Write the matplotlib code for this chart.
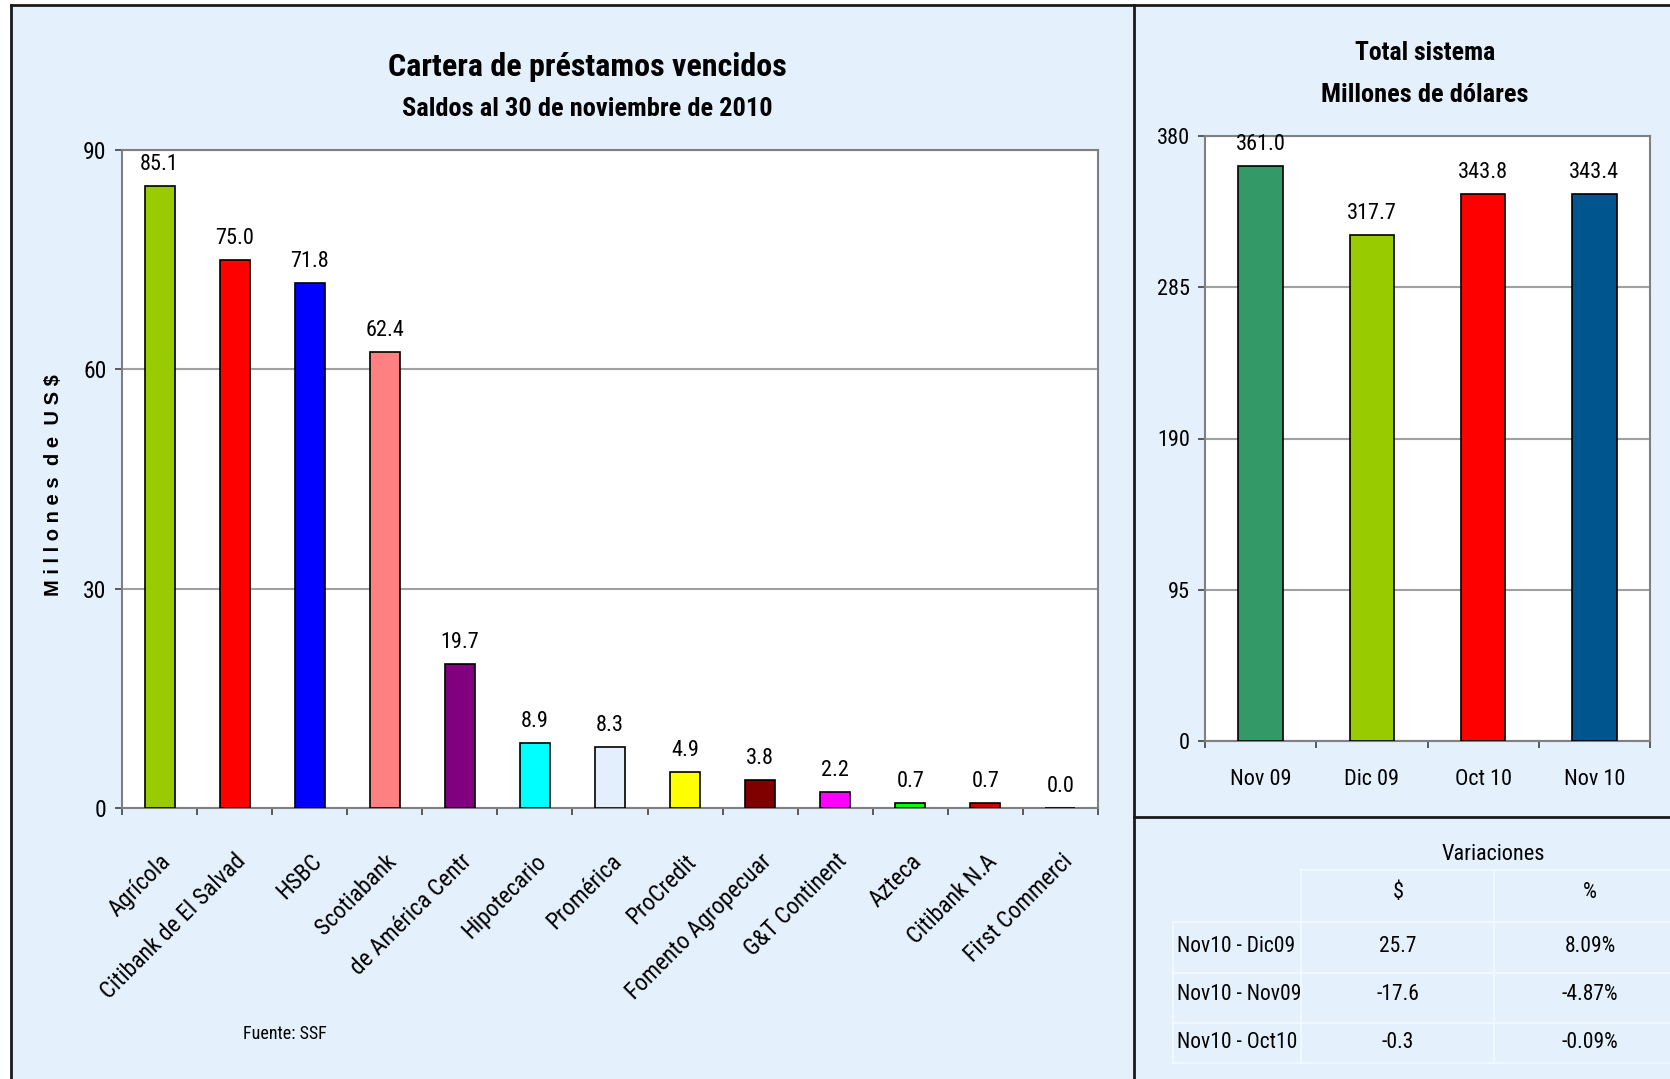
import matplotlib
matplotlib.use('Agg')
import matplotlib.pyplot as plt
from matplotlib.lines import Line2D
from matplotlib.patches import Rectangle
import numpy as np

plt.rcParams['font.family'] = ['Roboto Condensed', 'PT Sans Narrow', 'DejaVu Sans']

# ---------------- data ----------------
banks = ['Agrícola', 'Citibank de El Salvad', 'HSBC', 'Scotiabank', 'de América Centr',
         'Hipotecario', 'Promérica', 'ProCredit', 'Fomento Agropecuar', 'G&T Continent',
         'Azteca', 'Citibank N.A', 'First Commerci']
values = [85.1, 75.0, 71.8, 62.4, 19.7, 8.9, 8.3, 4.9, 3.8, 2.2, 0.7, 0.7, 0.0]
bank_colors = ['#99CC00', '#FF0000', '#0000FF', '#FF8080', '#800080', '#00FFFF', '#E3EFFC',
               '#FFFF00', '#800000', '#FF00FF', '#00FF00', '#CC0000', '#FFFFFF']
left_yticks = [0, 30, 60, 90]

periods = ['Nov 09', 'Dic 09', 'Oct 10', 'Nov 10']
totals = [361.0, 317.7, 343.8, 343.4]
total_colors = ['#339966', '#99CC00', '#FF0000', '#00558F']
right_yticks = [0, 95, 190, 285, 380]

var_rows = ['Nov10 - Dic09', 'Nov10 - Nov09', 'Nov10 - Oct10']
var_usd = ['25.7', '-17.6', '-0.3']
var_pct = ['8.09%', '-4.87%', '-0.09%']

# ---------------- figure ----------------
W, H = 1670, 1079
fig = plt.figure(figsize=(W / 100, H / 100), dpi=100)
fig.patch.set_facecolor('white')


def fx(px):
    return px / W


def fy(py):
    return 1 - py / H


BG = '#E4F1FD'
fig.patches.append(Rectangle((fx(11), 0), 1 - fx(11), fy(5), transform=fig.transFigure,
                             facecolor=BG, edgecolor='none', zorder=-10))
for (x0, y0, x1, y1) in [(11, 5, 1670, 5), (11, 5, 11, 1079), (1134, 5, 1134, 1079),
                         (1134, 817, 1670, 817)]:
    fig.add_artist(Line2D([fx(x0), fx(x1)], [fy(y0), fy(y1)], transform=fig.transFigure,
                          color='#1a1a1a', lw=2))

GRID = '#A0A0A0'
SPINE = '#808080'

# ---------------- left chart ----------------
ax1 = fig.add_axes([fx(122), fy(808), fx(1098) - fx(122), fy(150) - fy(808)])
ax1.set_facecolor('white')
x = np.arange(len(banks))
ax1.bar(x, values, width=0.4, color=bank_colors, edgecolor='black', linewidth=1.2, zorder=3)
for xi, v in zip(x, values):
    ax1.annotate(f'{v:.1f}', (xi, v), xytext=(0, 8), textcoords='offset points',
                 ha='center', va='bottom', fontsize=16)
ax1.set_xlim(-0.5, len(banks) - 0.5)
ax1.set_ylim(0, 90)
ax1.set_yticks(left_yticks)
ax1.yaxis.grid(True, color=GRID, lw=1.5)
ax1.set_axisbelow(True)
ax1.set_xticks(x)
ax1.set_xticklabels(banks, rotation=45, ha='right', rotation_mode='anchor', fontsize=17)
ax1.set_xticks(np.arange(-0.5, len(banks)), minor=True)
ax1.tick_params(axis='x', which='major', length=0, pad=30)
ax1.tick_params(axis='x', which='minor', length=5, color='#404040', width=1.2)
ax1.tick_params(axis='y', length=5, color='#404040', width=1.2, pad=6, labelsize=17)
for s in ax1.spines.values():
    s.set_color(SPINE)
    s.set_linewidth(1.5)
fig.text(fx(54), fy(485), 'M i l l o n e s  d e  U S $', rotation=90, ha='center',
         va='center', fontsize=14.5, fontweight='bold', family='Liberation Sans')

fig.text(fx(587), fy(67), 'Cartera de préstamos vencidos', ha='center', va='center',
         fontsize=23, fontweight='bold')
fig.text(fx(587), fy(109), 'Saldos al 30 de noviembre de 2010', ha='center', va='center',
         fontsize=19, fontweight='bold')
fig.text(fx(243), fy(1034), 'Fuente: SSF', ha='left', va='center', fontsize=13)

# ---------------- right chart ----------------
ax2 = fig.add_axes([fx(1205), fy(741), fx(1650) - fx(1205), fy(136) - fy(741)])
ax2.set_facecolor('white')
xp = np.arange(len(periods))
ax2.bar(xp, totals, width=0.4, color=total_colors, edgecolor='black', linewidth=1.2, zorder=3)
for xi, v in zip(xp, totals):
    ax2.annotate(f'{v:.1f}', (xi, v), xytext=(0, 8), textcoords='offset points',
                 ha='center', va='bottom', fontsize=16)
ax2.set_xlim(-0.5, len(periods) - 0.5)
ax2.set_ylim(0, 380)
ax2.set_yticks(right_yticks)
ax2.yaxis.grid(True, color=GRID, lw=1.5)
ax2.set_axisbelow(True)
ax2.set_xticks(xp)
ax2.set_xticklabels(periods, fontsize=16)
ax2.set_xticks(np.arange(-0.5, len(periods)), minor=True)
ax2.tick_params(axis='x', which='major', length=0, pad=20)
ax2.tick_params(axis='x', which='minor', length=5, color='#404040', width=1.2)
ax2.tick_params(axis='y', length=5, color='#404040', width=1.2, pad=6, labelsize=16)
for s in ax2.spines.values():
    s.set_color(SPINE)
    s.set_linewidth(1.5)

fig.text(fx(1425), fy(53), 'Total sistema', ha='center', va='center',
         fontsize=18.5, fontweight='bold')
fig.text(fx(1425), fy(95), 'Millones de dólares', ha='center', va='center',
         fontsize=19, fontweight='bold')

# ---------------- variations table ----------------
LINE = '#F3F9FF'
for (x0, y0, x1, y1) in [(1301, 870, 1670, 870), (1173, 922, 1670, 922), (1173, 973, 1670, 973),
                         (1173, 1023, 1670, 1023), (1173, 1063, 1670, 1063),
                         (1301, 870, 1301, 1063), (1494, 870, 1494, 1063), (1173, 922, 1173, 1063)]:
    fig.add_artist(Line2D([fx(x0), fx(x1)], [fy(y0), fy(y1)], transform=fig.transFigure,
                          color=LINE, lw=1.2))

fig.text(fx(1493), fy(855), 'Variaciones', ha='center', va='center', fontsize=16)
fig.text(fx(1398), fy(892), '$', ha='center', va='center', fontsize=16)
fig.text(fx(1590), fy(892), '%', ha='center', va='center', fontsize=16)
row_y = [946, 994, 1042]
for ry, lab, usd, pct in zip(row_y, var_rows, var_usd, var_pct):
    fig.text(fx(1177), fy(ry), lab, ha='left', va='center', fontsize=15.5)
    fig.text(fx(1398), fy(ry), usd, ha='center', va='center', fontsize=15.5)
    fig.text(fx(1590), fy(ry), pct, ha='center', va='center', fontsize=15.5)

fig.savefig('out.png', dpi=100, facecolor=fig.get_facecolor())
